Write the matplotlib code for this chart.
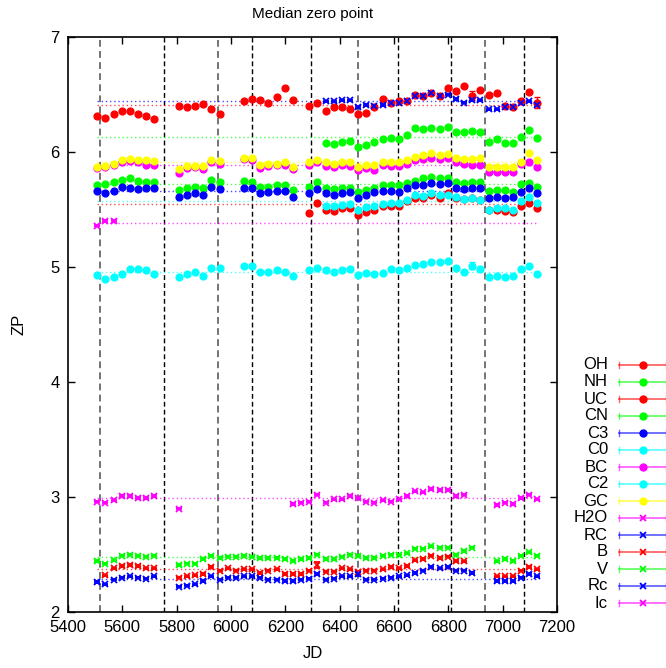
import numpy as np
import matplotlib
matplotlib.use("Agg")
import matplotlib.pyplot as plt
from matplotlib.lines import Line2D

plt.rcParams['font.family'] = ['Liberation Sans', 'DejaVu Sans']

NA = np.nan

# monthly epochs (JD - 2450000)
jd = [5508, 5538, 5568, 5598, 5628, 5658, 5688, 5718, 5748, 5778,
      5808, 5838, 5868, 5898, 5928, 5958, 5988, 6018, 6048, 6078,
      6108, 6138, 6168, 6198, 6228, 6258, 6288, 6318, 6348, 6378,
      6408, 6438, 6468, 6498, 6528, 6558, 6588, 6618, 6648, 6678,
      6708, 6738, 6768, 6798, 6828, 6858, 6888, 6918, 6948, 6978,
      7008, 7038, 7068, 7098, 7128]

oh = [6.31, 6.30, 6.33, 6.36, 6.36, 6.33, 6.31, 6.29, NA, NA,
      6.40, 6.39, 6.40, 6.42, 6.37, 6.33, NA, NA, 6.44, 6.46,
      6.45, 6.43, 6.48, 6.56, 6.45, NA, 6.40, 6.43, 6.36, 6.39,
      6.39, 6.37, 6.33, 6.34, 6.39, 6.46, 6.43, 6.44, 6.44, 6.50,
      6.49, 6.51, 6.49, 6.56, 6.53, 6.57, 6.49, 6.54, 6.50, 6.51,
      6.40, 6.39, 6.44, 6.52, 6.43]
nh = [NA] * 28 + [6.08, 6.07,
      6.09, 6.10, 6.04, 6.06, 6.09, 6.11, 6.12, 6.11, 6.15, 6.21,
      6.20, 6.21, 6.20, 6.22, 6.17, 6.17, 6.18, 6.17, 6.09, 6.11,
      6.08, 6.08, 6.13, 6.19, 6.12]
uc = [NA] * 26 + [5.47, 5.56, 5.50, 5.49,
      5.51, 5.51, 5.45, 5.48, 5.50, 5.53, 5.53, 5.53, 5.57, 5.60,
      5.60, 5.63, 5.60, 5.64, 5.60, 5.59, 5.60, 5.58, 5.50, 5.50,
      5.49, 5.48, 5.53, 5.56, 5.51]
cn = [5.71, 5.72, 5.74, 5.76, 5.77, 5.75, 5.74, 5.74, NA, NA,
      5.67, 5.69, 5.70, 5.69, 5.76, 5.74, NA, NA, 5.75, 5.74,
      5.70, 5.70, 5.71, 5.71, 5.67, NA, 5.70, 5.74, 5.69, 5.68,
      5.69, 5.69, 5.65, 5.67, 5.69, 5.71, 5.71, 5.71, 5.73, 5.75,
      5.77, 5.78, 5.77, 5.77, 5.74, 5.73, 5.74, 5.74, 5.66, 5.67,
      5.67, 5.65, 5.72, 5.73, 5.70]
c3 = [5.66, 5.64, 5.66, 5.70, 5.69, 5.68, 5.69, 5.69, NA, NA,
      5.61, 5.63, 5.64, 5.63, 5.70, 5.68, NA, NA, 5.69, 5.69,
      5.64, 5.65, 5.66, 5.66, 5.61, NA, 5.64, 5.68, 5.64, 5.63,
      5.64, 5.65, 5.60, 5.63, 5.65, 5.66, 5.66, 5.65, 5.69, 5.71,
      5.71, 5.73, 5.72, 5.73, 5.69, 5.68, 5.69, 5.69, 5.60, 5.61,
      5.60, 5.61, 5.65, 5.69, 5.64]
c0 = [NA] * 28 + [5.53, 5.53,
      5.54, 5.55, 5.50, 5.52, 5.53, 5.55, 5.56, 5.56, 5.58, 5.63,
      5.62, 5.64, 5.63, 5.63, 5.61, 5.59, 5.60, 5.58, 5.50, 5.51,
      5.51, 5.50, 5.57, 5.61, 5.56]
bc = [5.86, 5.87, 5.89, 5.91, 5.92, 5.91, 5.89, 5.89, NA, NA,
      5.82, 5.86, 5.87, 5.85, 5.91, 5.90, NA, NA, 5.94, 5.93,
      5.86, 5.88, 5.89, 5.89, 5.85, NA, 5.89, 5.91, 5.88, 5.87,
      5.89, 5.88, 5.84, 5.86, 5.84, 5.89, 5.88, 5.88, 5.90, 5.93,
      5.94, 5.95, 5.94, 5.95, 5.91, 5.90, 5.89, 5.89, 5.83, 5.83,
      5.83, 5.83, 5.90, 5.91, 5.87]
c2 = [4.93, 4.90, 4.91, 4.94, 4.98, 4.98, 4.97, 4.94, NA, NA,
      4.91, 4.94, 4.96, 4.92, 4.99, 4.99, NA, NA, 5.01, 5.01,
      4.96, 4.96, 4.97, 4.96, 4.92, NA, 4.97, 4.99, 4.97, 4.96,
      4.97, 4.98, 4.93, 4.95, 4.94, 4.95, 4.98, 4.97, 4.99, 5.02,
      5.03, 5.04, 5.04, 5.05, 4.99, 4.96, 5.01, 4.98, 4.91, 4.92,
      4.91, 4.92, 4.98, 5.01, 4.94]
gc = [5.87, 5.88, 5.90, 5.93, 5.94, 5.93, 5.93, 5.92, NA, NA,
      5.85, 5.88, 5.88, 5.88, 5.93, 5.92, NA, NA, 5.95, 5.95,
      5.89, 5.90, 5.90, 5.91, 5.87, NA, 5.91, 5.93, 5.91, 5.90,
      5.91, 5.91, 5.87, 5.89, 5.89, 5.91, 5.91, 5.91, 5.93, 5.96,
      5.97, 5.99, 5.97, 5.98, 5.95, 5.94, 5.94, 5.95, 5.87, 5.87,
      5.87, 5.87, 5.91, 5.99, 5.93]
h2o = [5.36, 5.40, 5.40] + [NA] * 52
rc_nb = [NA] * 28 + [6.44, 6.44,
         6.45, 6.45, 6.39, 6.41, 6.40, 6.41, 6.43, 6.43, 6.44, 6.49,
         6.49, 6.51, 6.49, 6.50, 6.46, 6.43, 6.45, 6.45, 6.37, 6.37,
         6.39, 6.39, 6.43, 6.44, 6.41]
b = [NA, 2.32, 2.38, 2.40, 2.41, 2.40, 2.38, 2.38, NA, NA,
     2.30, 2.31, 2.32, 2.33, 2.39, 2.36, 2.38, 2.36, 2.37, 2.37,
     2.34, 2.36, 2.37, 2.33, 2.33, 2.33, 2.36, 2.41, 2.35, 2.35,
     2.38, 2.37, 2.35, 2.36, 2.36, 2.37, 2.39, 2.38, 2.40, 2.45,
     2.46, 2.49, 2.47, 2.48, 2.445, 2.44, NA, NA, NA, 2.31,
     2.31, 2.31, 2.36, 2.39, 2.37]
v = [2.445, 2.42, 2.45, 2.49, 2.50, 2.49, 2.48, 2.49, NA, NA,
     2.41, 2.42, 2.42, 2.46, 2.49, 2.47, 2.48, 2.48, 2.49, 2.48,
     2.47, 2.47, 2.47, 2.46, 2.445, 2.46, 2.47, 2.50, 2.46, 2.46,
     2.48, 2.50, 2.49, 2.47, 2.47, 2.49, 2.50, 2.50, 2.51, 2.55,
     2.55, 2.57, 2.56, 2.56, 2.50, 2.53, 2.56, NA, NA, 2.44,
     2.46, 2.445, 2.49, 2.52, 2.49]
rc = [2.26, 2.24, 2.28, 2.30, 2.31, 2.30, 2.29, 2.31, NA, NA,
      2.22, 2.23, 2.24, 2.27, 2.31, 2.28, 2.30, 2.30, 2.31, 2.31,
      2.30, 2.28, 2.28, 2.27, 2.27, 2.28, 2.29, 2.33, 2.28, 2.29,
      2.31, 2.31, 2.33, 2.28, 2.28, 2.29, 2.30, 2.31, 2.32, 2.34,
      2.36, 2.39, 2.38, 2.39, 2.36, 2.36, 2.34, NA, NA, 2.27,
      2.27, 2.27, 2.30, 2.33, 2.31]
ic = [2.96, 2.95, 2.97, 3.01, 3.01, 2.99, 2.99, 3.01, NA, NA,
      2.90] + [NA] * 13 + [2.94, 2.95, 2.96, 3.02, 2.95, 2.98,
      2.98, 3.01, 2.99, 2.96, 2.95, 2.97, 2.96, 2.98, 3.01, 3.05,
      3.04, 3.07, 3.06, 3.06, 3.01, 3.02, NA, NA, NA, 2.93,
      2.95, 2.94, 2.99, 3.02, 2.98]

names = ["OH", "NH", "UC", "CN", "C3", "C0", "BC", "C2", "GC",
         "H2O", "RC", "B", "V", "Rc", "Ic"]
series = [oh, nh, uc, cn, c3, c0, bc, c2, gc, h2o, rc_nb, b, v, rc, ic]
medians = [6.41, 6.13, 5.55, 5.72, 5.66, 5.57, 5.89, 4.96, 5.91,
           5.38, 6.44, 2.37, 2.48, 2.29, 2.99]
colors = ["#ff0000", "#00ff00", "#ff0000", "#00ff00", "#0000ff",
          "#00ffff", "#ff00ff", "#00ffff", "#ffff00", "#ff00ff",
          "#0000ff", "#ff0000", "#00ff00", "#0000ff", "#ff00ff"]
markers = ["o"] * 9 + ["x"] * 6

# points with noticeably larger error bars
big_err = {"OH": {46: 0.04, 54: 0.05}, "C2": {46: 0.03},
           "B": {27: 0.025}, "Rc": {32: 0.02}}

# camera / filter change epochs
breaks = [5518, 5753, 5952, 6078, 6293, 6466, 6614, 6809, 6935, 7080]
break_col = ["0.45", "k", "0.45", "k", "k", "0.45", "k", "k", "0.45", "k"]

fig = plt.figure(figsize=(6.66, 6.68), dpi=100)
ax = fig.add_axes([68 / 666, 1 - 612 / 668, 489 / 666, 575 / 668])

for x, c in zip(breaks, break_col):
    ax.axvline(x, color=c, lw=1.0 if c == "k" else 1.4,
               ls=(0, (3.5, 2.2)), zorder=1)

for name, vals, med, col, mk in zip(names, series, medians, colors, markers):
    err = np.full(len(jd), 0.006)
    for i, e in big_err.get(name, {}).items():
        err[i] = e
    if mk == "o":
        ax.errorbar(jd, vals, yerr=err, fmt="o", color=col, ms=4.9,
                    mec=col, elinewidth=1, capsize=2, zorder=3)
    else:
        ax.errorbar(jd, vals, yerr=err, fmt="x", color=col, ms=4.3,
                    mew=1.3, elinewidth=1, capsize=2.5, zorder=3)
    ax.hlines(med, jd[0], jd[-1], colors=col, linestyles=(0, (1, 2)),
              lw=1, alpha=0.7, zorder=2)

ax.set_xlim(5400, 7200)
ax.set_ylim(2, 7)
ax.set_xticks(np.arange(5400, 7201, 200))
ax.set_yticks(np.arange(2, 8, 1))
ax.tick_params(direction="in", top=True, right=True, length=5,
               width=1, labelsize=12, pad=6)
for s in ax.spines.values():
    s.set_linewidth(1.2)

ax.set_title("Median zero point", fontsize=11, pad=14)
ax.set_xlabel("JD", fontsize=12, labelpad=8)
ax.set_ylabel("ZP", fontsize=12, labelpad=17)

# gnuplot style key outside the frame
W, H = 666, 668
for k, (name, col, mk) in enumerate(zip(names, colors, markers)):
    y = 1 - (365 + 17 * k) / H
    fig.text(608 / W, y, name, ha="right", va="center", fontsize=12)
    x0, x1 = 619 / W, 666 / W
    fig.add_artist(Line2D([x0, x1], [y, y], color=col, lw=1.3, alpha=0.6,
                          transform=fig.transFigure))
    for xc in (x0, x1):
        fig.add_artist(Line2D([xc, xc], [y - 3 / H, y + 3 / H], color=col,
                              lw=1, alpha=0.6, transform=fig.transFigure))
    if mk == "o":
        fig.add_artist(Line2D([(x0 + x1) / 2], [y], marker="o", ms=5,
                              color=col, transform=fig.transFigure))
    else:
        fig.add_artist(Line2D([(x0 + x1) / 2], [y], marker="x", ms=4.5,
                              mew=1.3, color=col, transform=fig.transFigure))

fig.savefig("out.png", dpi=100)
